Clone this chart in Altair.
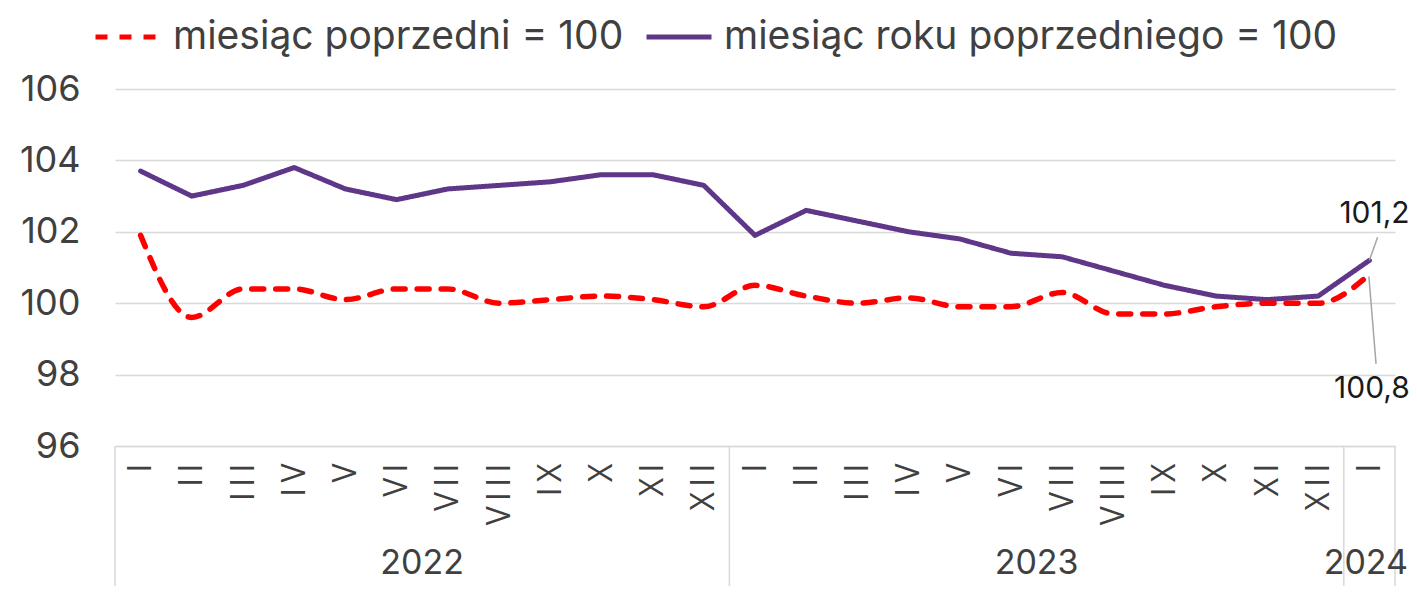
import altair as alt
import pandas as pd

months = ["I", "II", "III", "IV", "V", "VI", "VII", "VIII", "IX", "X", "XI", "XII"]
years = ["2022", "2023", "2024"]
year_pos = [5.5, 17.5, 23.93]
separators = [-0.5, 11.5, 23.5, 24.5]

mm = [101.9, 99.6, 100.4, 100.4, 100.1, 100.4, 100.4, 100.0, 100.1, 100.2, 100.1, 99.9,
      100.5, 100.2, 100.0, 100.15, 99.9, 99.9, 100.3, 99.7, 99.7, 99.9, 100.0, 100.0,
      100.8]
yy = [103.7, 103.0, 103.3, 103.8, 103.2, 102.9, 103.2, 103.3, 103.4, 103.6, 103.6, 103.3,
      101.9, 102.6, 102.3, 102.0, 101.8, 101.4, 101.3, 100.9, 100.5, 100.2, 100.1, 100.2,
      101.2]

s_mm = "miesiąc poprzedni = 100"
s_yy = "miesiąc roku poprzedniego = 100"
series = [s_mm, s_yy]
colors = ["#FF0000", "#5E3788"]
dashes = [[12, 12], [1, 0]]

ann_labels = ["101,2", "100,8"]
ann_x = [24.1, 24.05]
ann_y = [102.5, 97.6]
lead_x = [24.0, 23.99]
lead_y = [101.2, 100.75]
lead_x2 = [24.16, 24.13]
lead_y2 = [101.85, 98.3]

FONT = "Inter"
TXT = "#404040"

n = len(mm)
df = pd.DataFrame({
    "idx": list(range(n)) * 2,
    "value": mm + yy,
    "series": [s_mm] * n + [s_yy] * n,
})
years_df = pd.DataFrame({"x": year_pos, "label": years})
sep_df = pd.DataFrame({"x": separators})
ann_df = pd.DataFrame({"x": ann_x, "y": ann_y, "label": ann_labels})
lead_df = pd.DataFrame({"x": lead_x, "y": lead_y, "x2": lead_x2, "y2": lead_y2})

W, H = 1280, 357

# roman numerals, letters spaced slightly apart (thin space) as in the original
spaced = ["\u2009".join(list(m)) for m in months]
label_expr = "[" + ",".join("'%s'" % m for m in spaced) + "][datum.value % 12]"

x_scale = alt.Scale(domain=[-0.5, 24.5], nice=False, zero=False)
y_scale = alt.Scale(domain=[96, 106], nice=False, zero=False)

LX, LY = -22, -87
color = alt.Color(
    "series:N",
    scale=alt.Scale(domain=series, range=colors),
    legend=alt.Legend(
        title=None, orient="none", direction="horizontal",
        legendX=LX, legendY=LY,
        labelFontSize=39, labelFont=FONT, labelColor=TXT,
        symbolType="M-1,0L1,0", symbolSize=4225, symbolStrokeWidth=5,
        labelOffset=10, columnPadding=12, labelLimit=900,
    ),
)
dash = alt.StrokeDash(
    "series:N",
    scale=alt.Scale(domain=series, range=dashes),
    legend=alt.Legend(title=None, orient="none", legendX=LX, legendY=LY),
)

base = alt.Chart(df)

x_enc = alt.X(
    "idx:Q", scale=x_scale, title=None,
    axis=alt.Axis(
        values=list(range(n)), labelExpr=label_expr, labelAngle=270,
        labelFontSize=32, labelFont="Open Sans", labelColor=TXT,
        labelPadding=17, ticks=False, grid=False,
        domainColor="#D9D9D9", domainWidth=1.5, labelFlush=False,
        labelOverlap=False,
    ),
)
y_enc = alt.Y(
    "value:Q", scale=y_scale, title=None,
    axis=alt.Axis(
        values=[96, 98, 100, 102, 104, 106], labelFontSize=36, labelFont=FONT,
        labelColor=TXT, labelPadding=35, ticks=False, domain=False,
        gridColor="#D9D9D9", gridWidth=1.5,
    ),
)

purple = base.transform_filter(alt.datum.series == s_yy).mark_line(
    strokeWidth=5, strokeCap="round", strokeJoin="round"
).encode(x=x_enc, y=y_enc, color=color, strokeDash=dash)

red = base.transform_filter(alt.datum.series == s_mm).mark_line(
    strokeWidth=5.5, strokeCap="round", strokeJoin="round", interpolate="monotone"
).encode(x=alt.X("idx:Q", scale=x_scale), y=alt.Y("value:Q", scale=y_scale),
         color=color, strokeDash=dash)

seps = alt.Chart(sep_df).mark_rule(color="#D9D9D9", strokeWidth=1.5, clip=False).encode(
    x=alt.X("x:Q", scale=x_scale), y=alt.value(H), y2=alt.value(H + 140)
)

year_text = alt.Chart(years_df).mark_text(
    fontSize=34, font=FONT, color=TXT, baseline="middle", clip=False
).encode(x=alt.X("x:Q", scale=x_scale), y=alt.value(H + 118), text="label:N")

leads = alt.Chart(lead_df).mark_rule(color="#A6A6A6", strokeWidth=1.5).encode(
    x=alt.X("x:Q", scale=x_scale), y=alt.Y("y:Q", scale=y_scale),
    x2="x2:Q", y2="y2:Q",
)

ann = alt.Chart(ann_df).mark_text(
    fontSize=30, font=FONT, color="#1A1A1A", baseline="middle", clip=False
).encode(x=alt.X("x:Q", scale=x_scale), y=alt.Y("y:Q", scale=y_scale), text="label:N")

chart = alt.layer(purple, red, seps, year_text, leads, ann).properties(
    width=W, height=H,
    autosize=alt.AutoSizeParams(type="none"),
    padding={"left": 107, "top": 81, "right": 14, "bottom": 140},
).configure_view(stroke=None).resolve_scale(color="shared", strokeDash="shared")

chart.save("out.html", embed_options={"renderer": "svg", "actions": False})
